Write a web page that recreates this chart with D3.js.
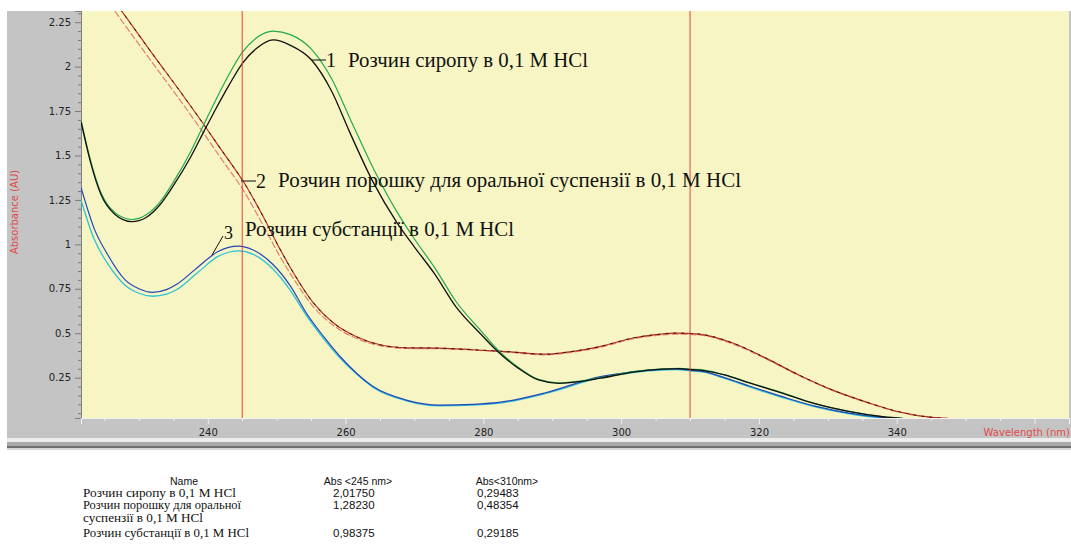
<!DOCTYPE html>
<html>
<head>
<meta charset="utf-8">
<script src="https://cdn.jsdelivr.net/npm/d3@7"></script>
<style>
  body { margin: 0; background: #fff; }
  svg { display: block; }
</style>
</head>
<body>
<svg id="chart" width="1071" height="547"></svg>
<script>
// wavelengths (nm) and absorbance values
const syrupWl = [221.6, 223, 224.5, 226.5, 229, 231, 233, 235, 237.5, 239.5, 241, 243, 245, 247, 249.5, 252, 255, 258, 260.5, 264, 267.5, 270, 273, 276, 279.5, 282, 285, 288, 291, 294, 297, 302, 306, 308.5, 310, 312, 315, 318.5, 323.5, 328, 333, 338, 341];
const syrupBlack = [1.69, 1.46, 1.28, 1.17, 1.128, 1.15, 1.22, 1.33, 1.49, 1.64, 1.75, 1.89, 2.0175, 2.10, 2.15, 2.12, 2.04, 1.86, 1.64, 1.35, 1.12, 0.985, 0.83, 0.65, 0.50, 0.40, 0.305, 0.237, 0.218, 0.228, 0.247, 0.283, 0.298, 0.301, 0.296, 0.29, 0.265, 0.222, 0.162, 0.105, 0.06, 0.03, 0.02];
const syrupGreen = [1.70, 1.47, 1.29, 1.18, 1.14, 1.165, 1.235, 1.35, 1.52, 1.68, 1.80, 1.95, 2.08, 2.16, 2.20, 2.18, 2.10, 1.93, 1.72, 1.43, 1.18, 1.03, 0.865, 0.68, 0.52, 0.41, 0.31, 0.24, 0.22, 0.23, 0.25, 0.285, 0.30, 0.303, 0.298, 0.292, 0.266, 0.223, 0.163, 0.105, 0.06, 0.03, 0.02];

const powderWl = [222, 227.3, 232, 236, 238.5, 242, 245.3, 248, 250.5, 252.4, 255.3, 258.2, 261.6, 265, 268.9, 273.7, 278.5, 283.3, 289, 293, 296.9, 301.7, 305, 308, 311.3, 316.2, 321, 325.8, 330.7, 335.5, 340.3, 345.2, 347.6];
const powderDark = [2.62, 2.324, 2.07, 1.86, 1.725, 1.53, 1.345, 1.16, 0.972, 0.842, 0.672, 0.559, 0.48, 0.435, 0.418, 0.416, 0.407, 0.397, 0.382, 0.398, 0.425, 0.473, 0.492, 0.501, 0.495, 0.445, 0.36, 0.265, 0.18, 0.114, 0.058, 0.026, 0.02];
const powderRed = [2.56, 2.27, 2.02, 1.81, 1.675, 1.48, 1.295, 1.11, 0.93, 0.81, 0.65, 0.545, 0.47, 0.43, 0.414, 0.413, 0.405, 0.394, 0.378, 0.394, 0.42, 0.468, 0.487, 0.495, 0.49, 0.44, 0.356, 0.262, 0.178, 0.112, 0.056, 0.025, 0.02];

const substWl = [221.6, 223.5, 225.5, 228, 230, 232, 234, 235.5, 238.5, 241.5, 244.5, 246.5, 249.5, 252, 254.3, 256.8, 259.2, 261.6, 264, 268.8, 273.7, 278.5, 283, 289, 297, 302, 308, 310, 312, 315, 318.6, 323.4, 328.3, 333.1, 338, 341];
const substBlue = [1.32, 1.09, 0.94, 0.80, 0.75, 0.73, 0.745, 0.775, 0.87, 0.96, 0.99, 0.97, 0.885, 0.765, 0.614, 0.482, 0.369, 0.275, 0.20, 0.124, 0.096, 0.10, 0.115, 0.165, 0.256, 0.284, 0.299, 0.2919, 0.284, 0.25, 0.203, 0.143, 0.088, 0.05, 0.026, 0.02];
const substCyan = [1.25, 1.03, 0.89, 0.77, 0.725, 0.708, 0.72, 0.746, 0.84, 0.932, 0.963, 0.945, 0.86, 0.74, 0.60, 0.47, 0.36, 0.27, 0.195, 0.12, 0.092, 0.096, 0.11, 0.16, 0.25, 0.28, 0.295, 0.289, 0.281, 0.246, 0.198, 0.138, 0.084, 0.047, 0.024, 0.02];

// marker lines (nm)
const markerWl = [245, 310];

// axis ticks
const xMajorTicks = [240, 260, 280, 300, 320, 340, 360];
const xTickLabels = ['240', '260', '280', '300', '320', '340', ''];
const yMajorTicks = [0.25, 0.5, 0.75, 1, 1.25, 1.5, 1.75, 2, 2.25];
const yTickLabels = ['0.25', '0.5', '0.75', '1', '1.25', '1.5', '1.75', '2', '2.25'];

// table below the chart
const tableHeader = ['Name', 'Abs <245 nm>', 'Abs<310nm>'];
const tableNames = [['Розчин сиропу в  0,1 М HCl'], ['Розчин порошку для оральної', 'суспензії  в 0,1 М HCl'], ['Розчин субстанції в 0,1 М HCl']];
const tableNameWidths = [[153], [158, 120], [166]];
const abs245 = ['2,01750', '1,28230', '0,98375'];
const abs310 = ['0,29483', '0,48354', '0,29185'];

const svg = d3.select('#chart');
const plot = { left: 81, right: 1069, top: 11, bottom: 418 };

const x = d3.scaleLinear().domain([221.6, 365]).range([plot.left, plot.right]);
const y = d3.scaleLinear().domain([0.023, 2.313]).range([plot.bottom, plot.top]);

// grey frame
svg.append('rect').attr('x', 7).attr('y', 11).attr('width', 1064).attr('height', 427).attr('fill', '#c4c4c4');
svg.append('rect').attr('x', 7).attr('y', 438).attr('width', 1064).attr('height', 4).attr('fill', '#ececec');
svg.append('rect').attr('x', 7).attr('y', 442).attr('width', 1064).attr('height', 4).attr('fill', '#a9a9a9');
svg.append('rect').attr('x', 7).attr('y', 446).attr('width', 1064).attr('height', 2).attr('fill', '#6f6f6f');
svg.append('rect').attr('x', 7).attr('y', 448).attr('width', 1064).attr('height', 2).attr('fill', '#d6d6d6');

// plot background
svg.append('rect')
  .attr('x', plot.left).attr('y', plot.top)
  .attr('width', plot.right - plot.left).attr('height', plot.bottom - plot.top)
  .attr('fill', '#f6f5c3');

svg.append('defs').append('clipPath').attr('id', 'clip')
  .append('rect')
  .attr('x', plot.left).attr('y', plot.top)
  .attr('width', plot.right - plot.left).attr('height', plot.bottom - plot.top);

// y axis
const yAxis = d3.axisLeft(y)
  .tickValues(yMajorTicks)
  .tickSize(6)
  .tickPadding(4)
  .tickFormat((d, i) => yTickLabels[i]);
const yMinor = d3.axisLeft(y)
  .tickValues(d3.range(0.05, 2.31, 0.05).filter(v => Math.abs(v * 4 - Math.round(v * 4)) > 1e-6))
  .tickSize(3)
  .tickFormat('');

const gyMinor = svg.append('g').attr('transform', `translate(${plot.left},0)`).call(yMinor);
const gy = svg.append('g').attr('transform', `translate(${plot.left},0)`).call(yAxis);
[gy, gyMinor].forEach(g => {
  g.select('.domain').attr('stroke', '#808080');
  g.selectAll('.tick line').attr('stroke', '#7a7a7a');
});
gy.selectAll('.tick text')
  .attr('fill', '#222')
  .style('font-family', 'Tahoma, "DejaVu Sans", sans-serif')
  .style('font-size', '10px');

// x axis
const xAxis = d3.axisBottom(x)
  .tickValues(xMajorTicks)
  .tickSize(6)
  .tickPadding(5)
  .tickFormat((d, i) => xTickLabels[i]);
const xMinor = d3.axisBottom(x)
  .tickValues(d3.range(225, 366, 5).filter(v => v % 20 !== 0))
  .tickSize(3)
  .tickFormat('');

const gxMinor = svg.append('g').attr('transform', `translate(0,${plot.bottom})`).call(xMinor);
const gx = svg.append('g').attr('transform', `translate(0,${plot.bottom})`).call(xAxis);
[gx, gxMinor].forEach(g => {
  g.select('.domain').attr('stroke', '#f2f2f2');
  g.selectAll('.tick line').attr('stroke', '#f0f0f0');
});
gx.selectAll('.tick text')
  .attr('fill', '#222')
  .style('font-family', 'Tahoma, "DejaVu Sans", sans-serif')
  .style('font-size', '10px');

// axis titles
svg.append('text')
  .attr('x', 1070).attr('y', 436)
  .attr('text-anchor', 'end')
  .attr('fill', '#e04a4a')
  .style('font-family', 'Tahoma, "DejaVu Sans", sans-serif')
  .style('font-size', '10px')
  .text('Wavelength (nm)');

svg.append('text')
  .attr('transform', 'translate(18,212) rotate(-90)')
  .attr('text-anchor', 'middle')
  .attr('fill', '#e04a4a')
  .style('font-family', 'Tahoma, "DejaVu Sans", sans-serif')
  .style('font-size', '10px')
  .text('Absorbance (AU)');

// curves
const line = d3.line()
  .x(d => x(d[0]))
  .y(d => y(d[1]))
  .curve(d3.curveMonotoneX);

const series = [
  { wl: powderWl, v: powderRed, color: '#e2826f', width: 1.2, dash: '7,2' },
  { wl: powderWl, v: powderDark, color: '#c0302a', width: 1.2, dash: null },
  { wl: powderWl, v: powderDark, color: '#2a1a1a', width: 1.0, dash: '3,5' },
  { wl: substWl, v: substCyan, color: '#2cc3d6', width: 1.3, dash: null },
  { wl: substWl, v: substBlue, color: '#2446b8', width: 1.2, dash: null },
  { wl: syrupWl, v: syrupGreen, color: '#25a94c', width: 1.2, dash: null },
  { wl: syrupWl, v: syrupBlack, color: '#111', width: 1.3, dash: null }
];

const curves = svg.append('g').attr('clip-path', 'url(#clip)');
series.forEach(s => {
  curves.append('path')
    .datum(s.wl.map((w, i) => [w, s.v[i]]))
    .attr('d', line)
    .attr('fill', 'none')
    .attr('stroke', s.color)
    .attr('stroke-width', s.width)
    .attr('stroke-dasharray', s.dash);
});

// red marker lines
curves.selectAll('.marker')
  .data(markerWl)
  .enter()
  .append('line')
  .attr('class', 'marker')
  .attr('x1', d => x(d)).attr('x2', d => x(d))
  .attr('y1', plot.top).attr('y2', plot.bottom)
  .attr('stroke', '#e8453a')
  .attr('stroke-width', 1);

// annotations
const serif = '"Liberation Serif", "Times New Roman", serif';
const ann = svg.append('g').style('font-family', serif).attr('fill', '#111');

ann.append('line').attr('x1', 312).attr('x2', 326).attr('y1', 60).attr('y2', 60).attr('stroke', '#111');
ann.append('text').attr('x', 326).attr('y', 67).style('font-size', '20px').text('1');
ann.append('text').attr('x', 348).attr('y', 67).style('font-size', '20px')
  .attr('textLength', 240).attr('lengthAdjust', 'spacingAndGlyphs')
  .text('Розчин сиропу в 0,1 М HCl');

ann.append('line').attr('x1', 241).attr('x2', 256).attr('y1', 181).attr('y2', 181).attr('stroke', '#111');
ann.append('text').attr('x', 256).attr('y', 188).style('font-size', '20px').text('2');
ann.append('text').attr('x', 278).attr('y', 187).style('font-size', '20px')
  .attr('textLength', 463).attr('lengthAdjust', 'spacingAndGlyphs')
  .text('Розчин порошку для оральної суспензії в 0,1 М HCl');

ann.append('line').attr('x1', 212).attr('x2', 223).attr('y1', 255).attr('y2', 236).attr('stroke', '#111');
ann.append('text').attr('x', 224).attr('y', 239).style('font-size', '18px').text('3');
ann.append('text').attr('x', 245).attr('y', 236).style('font-size', '20px')
  .attr('textLength', 269).attr('lengthAdjust', 'spacingAndGlyphs')
  .text('Розчин субстанції в 0,1 М HCl');

// table
const sans = '"Liberation Sans", Arial, sans-serif';
const table = svg.append('g').attr('fill', '#111');
const headerX = [184, 358, 507];
table.selectAll('.hdr')
  .data(tableHeader)
  .enter()
  .append('text')
  .attr('class', 'hdr')
  .attr('x', (d, i) => headerX[i])
  .attr('y', 485)
  .attr('text-anchor', 'middle')
  .style('font-family', sans)
  .style('font-size', '10.5px')
  .text(d => d);

const rowY = [497, 509, 537];
tableNames.forEach((lines, r) => {
  lines.forEach((t, k) => {
    table.append('text')
      .attr('x', 83)
      .attr('y', rowY[r] + k * 12.5)
      .style('font-family', serif)
      .style('font-size', '11.5px')
      .attr('textLength', tableNameWidths[r][k])
      .attr('lengthAdjust', 'spacingAndGlyphs')
      .text(t);
  });
  table.append('text')
    .attr('x', 333).attr('y', rowY[r])
    .style('font-family', sans).style('font-size', '11.5px')
    .text(abs245[r]);
  table.append('text')
    .attr('x', 477).attr('y', rowY[r])
    .style('font-family', sans).style('font-size', '11.5px')
    .text(abs310[r]);
});
</script>
</body>
</html>
